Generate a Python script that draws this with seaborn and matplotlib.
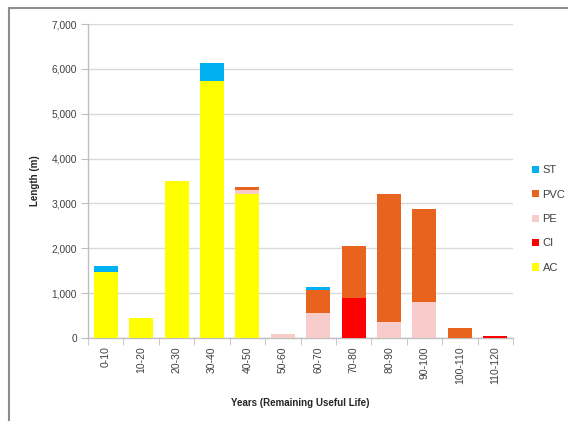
import numpy as np
import pandas as pd
import matplotlib
matplotlib.use("Agg")
import matplotlib.pyplot as plt
from matplotlib.lines import Line2D
from matplotlib.patches import Patch
from matplotlib.ticker import FuncFormatter, FixedLocator
import seaborn as sns

# Remaining useful life bins
categories = ["0-10", "10-20", "20-30", "30-40", "40-50", "50-60",
              "60-70", "70-80", "80-90", "90-100", "100-110", "110-120"]

# Pipe length (m) per material, stacked bottom to top: AC, CI, PE, PVC, ST
ac = [1470, 445, 3500, 5740, 3220, 0, 0, 0, 0, 0, 0, 0]
ci = [0, 0, 0, 0, 0, 0, 0, 900, 0, 0, 0, 40]
pe = [0, 0, 0, 0, 75, 80, 560, 0, 360, 800, 0, 0]
pvc = [0, 0, 0, 0, 80, 0, 500, 1140, 2840, 2080, 230, 0]
st = [130, 0, 0, 400, 0, 0, 75, 0, 0, 0, 0, 0]

materials = ["AC", "CI", "PE", "PVC", "ST"]
colors = {"AC": "#FFFF00", "CI": "#FF0000", "PE": "#F9CCCC",
          "PVC": "#E8641E", "ST": "#00B0F0"}

df = pd.DataFrame({"bin": categories, "AC": ac, "CI": ci, "PE": pe,
                   "PVC": pvc, "ST": st})
cum = df[materials].cumsum(axis=1)

sns.set_style("white")
plt.rcParams["font.family"] = ["Liberation Sans", "DejaVu Sans"]

fig = plt.figure(figsize=(5.68, 4.21), dpi=100)
ax = fig.add_axes([88 / 568, 1 - 338 / 421, 425 / 568, 314 / 421])

# draw cumulative totals from the top layer down so each layer shows its own slice
for m in reversed(materials):
    sns.barplot(x=df["bin"], y=cum[m], order=categories, color=colors[m],
                width=0.68, saturation=1, linewidth=0, edgecolor="none",
                ax=ax, zorder=3)

ax.set_ylim(0, 7000)
ax.set_xlim(-0.5, len(categories) - 0.5)
ax.yaxis.set_major_locator(FixedLocator(np.arange(0, 7001, 1000)))
ax.yaxis.set_major_formatter(FuncFormatter(lambda v, p: f"{int(v):,}"))
ax.grid(axis="y", color="#D9D9D9", linewidth=1, zorder=0)
ax.set_axisbelow(True)

for s in ["top", "right"]:
    ax.spines[s].set_visible(False)
for s in ["left", "bottom"]:
    ax.spines[s].set_color("#BFBFBF")
    ax.spines[s].set_linewidth(1)

ax.tick_params(axis="y", which="major", length=5, color="#BFBFBF",
               labelsize=7.3, labelcolor="#404040", pad=3, left=True)
ax.tick_params(axis="x", which="major", length=0, labelsize=7.5,
               labelcolor="#404040", pad=6, rotation=90)
ax.set_xticks(range(len(categories)))
ax.set_xticklabels(categories)
ax.xaxis.set_minor_locator(FixedLocator(np.arange(-0.5, len(categories), 1.0)))
ax.tick_params(axis="x", which="minor", length=5, color="#BFBFBF", bottom=True)

ax.set_ylabel("Length (m)", fontsize=7, fontweight="bold", color="#262626",
              labelpad=8)
ax.set_xlabel("Years (Remaining Useful Life)", fontsize=7, fontweight="bold",
              color="#262626", labelpad=10)

handles = [Patch(facecolor=colors[m], edgecolor="none", label=m)
           for m in reversed(materials)]
fig.legend(handles=handles, loc="center left",
           bbox_to_anchor=(522 / 568, 1 - 219 / 421), frameon=False,
           fontsize=8, handlelength=0.6, handleheight=0.6, handletextpad=0.35,
           labelspacing=1.3, labelcolor="#404040")

# chart area frame lines along the top and left edges
fig.add_artist(Line2D([9 / 568, 1], [1 - 8 / 421, 1 - 8 / 421],
                      transform=fig.transFigure, color="#8C8C8C", lw=1.5))
fig.add_artist(Line2D([9 / 568, 9 / 568], [0, 1 - 8 / 421],
                      transform=fig.transFigure, color="#8C8C8C", lw=1.5))

fig.savefig("out.png", dpi=100)
